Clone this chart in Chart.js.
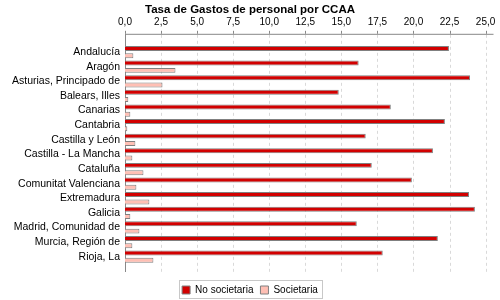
<!DOCTYPE html>
<html>
<head>
<meta charset="utf-8">
<script src="https://cdn.jsdelivr.net/npm/chart.js@4/dist/chart.umd.min.js"></script>
<style>
  body { margin: 0; background: #fff; }
</style>
</head>
<body>
<canvas id="gastosChart" width="500" height="300"></canvas>
<script>
// Data: Tasa de Gastos de personal por CCAA
const categories = ["Andalucía", "Aragón", "Asturias, Principado de", "Balears, Illes", "Canarias", "Cantabria", "Castilla y León", "Castilla - La Mancha", "Cataluña", "Comunitat Valenciana", "Extremadura", "Galicia", "Madrid, Comunidad de", "Murcia, Región de", "Rioja, La"];
const noSocietaria = [22.46, 16.20, 23.92, 14.82, 18.43, 22.18, 16.69, 21.35, 17.11, 19.89, 23.85, 24.26, 16.07, 21.69, 17.87];
const societaria = [0.58, 3.50, 2.60, 0.23, 0.37, 0.16, 0.72, 0.51, 1.28, 0.79, 1.69, 0.37, 1.00, 0.51, 1.97];
const seriesNames = ["No societaria", "Societaria"];

Chart.defaults.font.family = "'Liberation Sans', Arial, sans-serif";
Chart.defaults.font.size = 10;
Chart.defaults.color = "#000";

// axis lines, dashed grid and the box round the legend
const frame = {
    id: 'frame',
    beforeDatasetsDraw(chart) {
        const {ctx, chartArea: a, scales: {x}} = chart;
        const top = a.top - 11, bottom = a.bottom + 8;
        const left = Math.round(x.getPixelForValue(0)) + 0.5;
        ctx.save();
        ctx.lineWidth = 1;
        ctx.strokeStyle = '#d9d9d9';
        ctx.setLineDash([3, 3]);
        x.ticks.forEach(t => {
            if (t.value === 0) return;
            const px = Math.round(x.getPixelForValue(t.value)) + 0.5;
            ctx.beginPath();
            ctx.moveTo(px, top + 1);
            ctx.lineTo(px, bottom);
            ctx.stroke();
        });
        ctx.setLineDash([]);
        ctx.strokeStyle = '#888';
        ctx.beginPath();
        ctx.moveTo(left, top + 0.5);
        ctx.lineTo(Math.round(x.getPixelForValue(25)) + 7.5, top + 0.5);
        ctx.moveTo(left, top);
        ctx.lineTo(left, bottom);
        x.ticks.forEach(t => {
            const px = Math.round(x.getPixelForValue(t.value)) + 0.5;
            ctx.moveTo(px, top - 3);
            ctx.lineTo(px, top);
        });
        ctx.stroke();
        ctx.restore();
    },
    afterDraw(chart) {
        const hb = chart.legend.legendHitBoxes;
        if (!hb || !hb.length) return;
        const first = hb[0], last = hb[hb.length - 1];
        const {ctx} = chart;
        ctx.save();
        ctx.strokeStyle = '#c8c8c8';
        ctx.lineWidth = 1;
        const l = Math.round(first.left - 3) + 0.5;
        const r = Math.round(last.left + last.width + 4) + 0.5;
        const t = Math.round(first.top - 5) + 0.5;
        const b = Math.round(first.top + first.height + 3) + 0.5;
        ctx.strokeRect(l, t, r - l, b - t);
        ctx.restore();
    }
};

const cv = document.getElementById("gastosChart").getContext('2d');
const gastosChart = new Chart(cv, {
    type: 'bar',
    data: {
        labels: categories,
        datasets: [{
            label: seriesNames[0],
            data: noSocietaria,
            backgroundColor: "#d20000",
            borderColor: "#808080",
            borderWidth: 1
        }, {
            label: seriesNames[1],
            data: societaria,
            backgroundColor: "#ffbfb4",
            borderColor: "#808080",
            borderWidth: 1
        }]
    },
    options: {
        indexAxis: 'y',
        responsive: false,
        animation: false,
        categoryPercentage: 1.0,
        barPercentage: 0.68,
        layout: {
            padding: {left: 0, right: 0, top: 0, bottom: -5}
        },
        scales: {
            x: {
                position: 'top',
                min: 0,
                max: 26,
                grid: {display: false, drawTicks: true, tickLength: 17},
                border: {display: false},
                ticks: {
                    stepSize: 2.5,
                    includeBounds: false,
                    padding: 0,
                    color: '#000',
                    callback: v => v.toFixed(1).replace('.', ',')
                },
                afterFit(s) { s.height = 28; }
            },
            y: {
                grid: {display: false, drawTicks: false},
                border: {display: false},
                ticks: {autoSkip: false, padding: 5, color: '#000', font: {size: 10.5}},
                afterFit(s) { s.width = 125; }
            }
        },
        plugins: {
            title: {
                display: true,
                text: 'Tasa de Gastos de personal por CCAA',
                color: '#000',
                font: {size: 11.5, weight: 'bold'},
                padding: {top: 3, bottom: 0}
            },
            legend: {
                display: true,
                position: 'bottom',
                title: {display: true, text: ' ', font: {size: 10}, padding: {top: 1, bottom: 1}},
                labels: {boxWidth: 8, boxHeight: 8, padding: 7, color: '#000'}
            },
            tooltip: {enabled: false}
        }
    },
    plugins: [frame]
});
</script>
</body>
</html>
